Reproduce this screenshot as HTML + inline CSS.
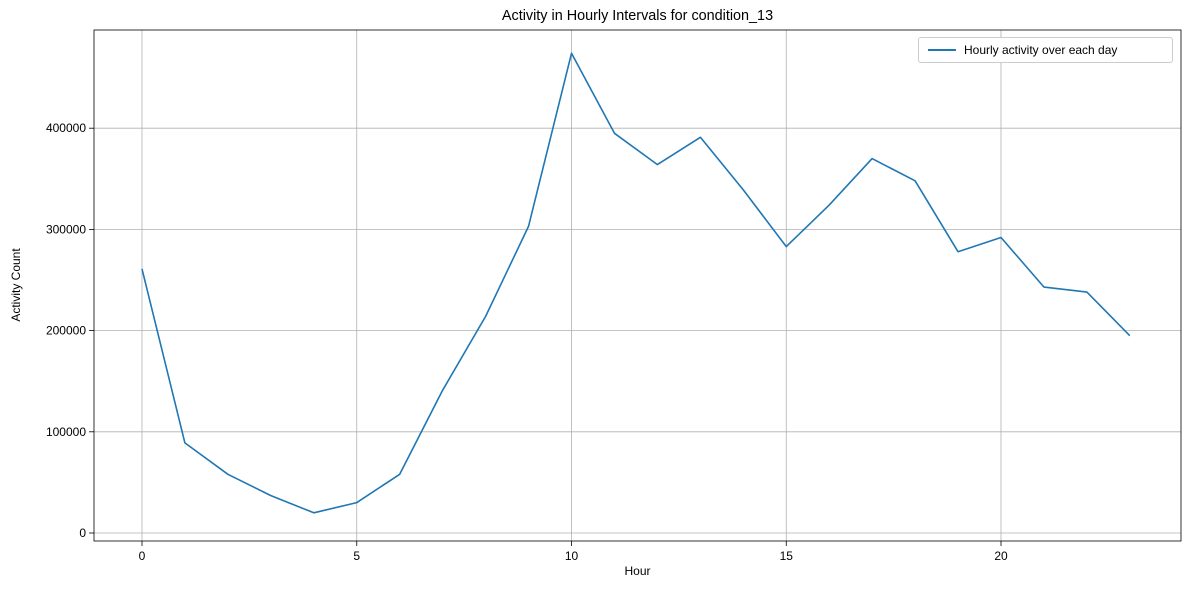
<!DOCTYPE html>
<html><head><meta charset="utf-8"><style>
html,body{margin:0;padding:0;background:#fff;}
svg{display:block;font-family:"Liberation Sans","DejaVu Sans",sans-serif;}
</style></head><body>
<svg id="chart" width="1189" height="590"></svg>
<script>
const hours = [0,1,2,3,4,5,6,7,8,9,10,11,12,13,14,15,16,17,18,19,20,21,22,23];
const activity = [261000,89000,58000,37000,20000,30000,58000,141000,214000,303000,474000,395000,364000,391000,339000,283000,324000,370000,348000,278000,292000,243000,238000,195000];
const xTicks = [0,5,10,15,20];
const yTicks = [0,100000,200000,300000,400000];

const L=94,R=1181,T=30,B=541;
function xs(v){return 142+(v-0)*(1001-142)/20;}
function ys(v){return 533-v*101.2/100000;}
const svg=document.getElementById('chart');
const NS='http://www.w3.org/2000/svg';
function mk(tag,attrs,parent){const e=document.createElementNS(NS,tag);for(const k in attrs)e.setAttribute(k,attrs[k]);(parent||svg).appendChild(e);return e;}

// grid
xTicks.forEach(t=>{
  const g=mk('line',{x1:xs(t),x2:xs(t),y1:T,y2:B,stroke:'#b0b0b0','stroke-width':0.8});
  
  
  const tk=mk('line',{x1:xs(t),x2:xs(t),y1:B,y2:B+5,stroke:'#000','stroke-width':0.8});
  
  
  const tx=mk('text',{x:xs(t),y:B+19,'text-anchor':'middle','font-size':12,fill:'#000'});
  tx.textContent=t;
  
  
});
yTicks.forEach(t=>{
  const g=mk('line',{x1:L,x2:R,y1:ys(t),y2:ys(t),stroke:'#b0b0b0','stroke-width':0.8});
  
  
  const tk=mk('line',{x1:L-5,x2:L,y1:ys(t),y2:ys(t),stroke:'#000','stroke-width':0.8});
  
  
  const tx=mk('text',{x:L-8,y:ys(t)+4,'text-anchor':'end','font-size':12,fill:'#000'});
  tx.textContent=t;
  
  
});

// line
const pts=hours.map((h,i)=>xs(h).toFixed(1)+','+ys(activity[i]).toFixed(1)).join(' ');
const line=mk('polyline',{points:pts,fill:'none',stroke:'#1f77b4','stroke-width':1.6,'stroke-linejoin':'round'});



// frame
const fr=mk('rect',{x:L,y:T,width:R-L,height:B-T,fill:'none',stroke:'#000','stroke-width':0.8});


</script>
<svg width="0" height="0" style="position:absolute"></svg>
<div style="position:absolute;left:0;top:0;width:1189px;height:590px;pointer-events:none;font-family:'Liberation Sans','DejaVu Sans',sans-serif;">
  <div style="position:absolute;left:94px;width:1087px;top:8px;text-align:center;font-size:14.4px;">Activity in Hourly Intervals for condition_13</div>
  <div style="position:absolute;left:94px;width:1087px;top:564px;text-align:center;font-size:12px;">Hour</div>
  <div style="position:absolute;left:16px;top:285px;font-size:12px;transform:translate(-50%,-50%) rotate(-90deg);white-space:nowrap;">Activity Count</div>
  <div style="position:absolute;left:918px;top:37px;width:255px;height:26px;border:1px solid #ccc;border-radius:3px;background:#fff;box-sizing:border-box;">
    <div style="position:absolute;left:9px;top:11px;width:28px;height:2px;background:#1f77b4;"></div>
    <div style="position:absolute;left:45px;top:5px;font-size:12px;white-space:nowrap;">Hourly activity over each day</div>
  </div>
</div>
</body></html>
